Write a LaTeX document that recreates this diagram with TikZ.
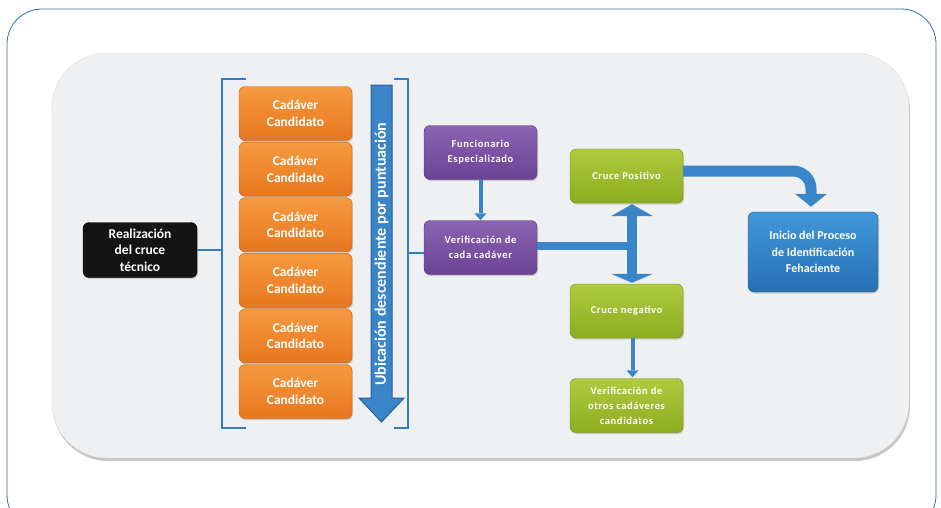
\documentclass[tikz,border=0pt]{standalone}
\usepackage{fontspec}
\setmainfont{Carlito}
\usetikzlibrary{arrows.meta,shadows,calc}

\definecolor{marco}{HTML}{2A6FB5}
\definecolor{panel}{HTML}{EEF0F1}
\definecolor{naranja}{HTML}{E8761E}
\definecolor{naranjaclaro}{HTML}{F59A40}
\definecolor{morado}{HTML}{6C4394}
\definecolor{moradoclaro}{HTML}{8A63B1}
\definecolor{verde}{HTML}{8DAC20}
\definecolor{verdeclaro}{HTML}{AFCB3E}
\definecolor{azul}{HTML}{2670B5}
\definecolor{azulclaro}{HTML}{4298D8}
\definecolor{flecha}{HTML}{3A85C7}
\definecolor{flechaborde}{HTML}{22609F}
\definecolor{corchete}{HTML}{2F7FC1}

\tikzset{
  caja/.style={rounded corners=6pt, minimum width=113pt, minimum height=54pt,
    align=center, text=white, inner sep=2pt,
    font=\bfseries\fontsize{13.5}{16.5}\selectfont,
    drop shadow={opacity=.35, shadow xshift=1pt, shadow yshift=-1.5pt}},
  espaciada/.style={font=\bfseries\fontsize{10.5}{15}\selectfont\addfontfeatures{LetterSpace=6}},
  candidato/.style={caja, top color=naranjaclaro, bottom color=naranja, draw=naranja!85!black, line width=.4pt},
  negra/.style={caja, fill=black!92, draw=black, minimum width=114pt, minimum height=55pt},
  moradacaja/.style={caja, espaciada, top color=moradoclaro, bottom color=morado, draw=morado!80!black, line width=.4pt},
  verdecaja/.style={caja, espaciada, top color=verdeclaro, bottom color=verde, draw=verde!80!black, line width=.4pt},
  azulcaja/.style={caja, top color=azulclaro, bottom color=azul, draw=azul!80!black, line width=.4pt,
    minimum width=130pt, minimum height=80pt, font=\bfseries\fontsize{12}{16.5}\selectfont},
  enlace/.style={draw=corchete, line width=2pt},
  gruesa/.style={draw=flecha, line width=10pt},
  fina/.style={draw=flecha, line width=4pt, -{Triangle[width=12pt,length=7pt,line width=0pt]}}
}

\begin{document}
\begin{tikzpicture}[x=1pt,y=-1pt]
  \useasboundingbox (0,0) rectangle (941,507);

  % marco exterior y panel gris
  \draw[marco, line width=.8pt, rounded corners=35pt] (7,9) rectangle (936,530);
  \draw[fill=panel, draw=black!15, rounded corners=55pt,
    drop shadow={opacity=.45, shadow xshift=1pt, shadow yshift=-3pt}] (52,53) rectangle (909,458);

  % cruce tecnico
  \node[negra] (real) at (140,250) {Realización\\del cruce\\técnico};

  % candidatos
  \foreach \i in {0,...,5}
    \node[candidato] (cand\i) at (295.5,{113.5+55.6*\i}) {Cadáver\\Candidato};

  % corchetes
  \coordinate (brkL) at (222,253);
  \coordinate (brkR) at (408,253);
  \draw[enlace] (246,79) -| (222,428) -- (246,428);
  \draw[enlace] (394,79) -| (408,428) -- (394,428);

  % flecha de puntuacion
  \fill[flecha, draw=flechaborde, line width=1pt]
    (371,85) -- (392,85) -- (392,398) -- (404,398) -- (381.5,422)
    -- (359,398) -- (371,398) -- cycle;
  \node[rotate=90, anchor=west, inner sep=0pt, text=white, font=\bfseries\fontsize{16}{16}\selectfont]
    (ubic) at (381.5,386) {Ubicación descendiente por puntuación};

  % verificacion
  \node[moradacaja] (func) at (480.5,152.5) {Funcionario\\Especializado};
  \node[moradacaja] (verif) at (480.5,247.5) {Verificación de\\cada cadáver};

  % cruces
  \node[verdecaja] (cpos) at (626.5,176) {Cruce Positivo};
  \node[verdecaja] (cneg) at (626.5,311) {Cruce negativo};
  \node[verdecaja] (cotros) at (626.5,405.5) {Verificación de\\otros cadáveres\\candidatos};
  \node[azulcaja] (inicio) at (813,252) {Inicio del Proceso\\de Identificación\\Fehaciente};

  % conexiones
  \draw[enlace] (real.east) -- (real.east -| brkL);
  \draw[enlace] (brkR) -- (brkR -| verif.west);
  \draw[fina] (func) -- (verif);
  \draw[fina] (cneg.south) ++(6,0) -- ($(cotros.north)+(6,-1)$);

  \coordinate (bif) at (632,246);
  \draw[gruesa, line width=8pt] (verif.east |- bif) -- (bif);
  \draw[gruesa, {Triangle[width=42pt,length=12pt,line width=0pt]}-{Triangle[width=42pt,length=9pt,line width=0pt]}]
    ($(cpos.south -| bif)+(0,1)$) -- ($(cneg.north -| bif)+(0,-1)$);
  \draw[gruesa, line width=11pt, rounded corners=18pt, -{Triangle[width=32pt,length=13pt,line width=0pt]}]
    ($(cpos.east)+(0,-5)$) -| ($(inicio.north)+(-2,-5)$);
\end{tikzpicture}
\end{document}
